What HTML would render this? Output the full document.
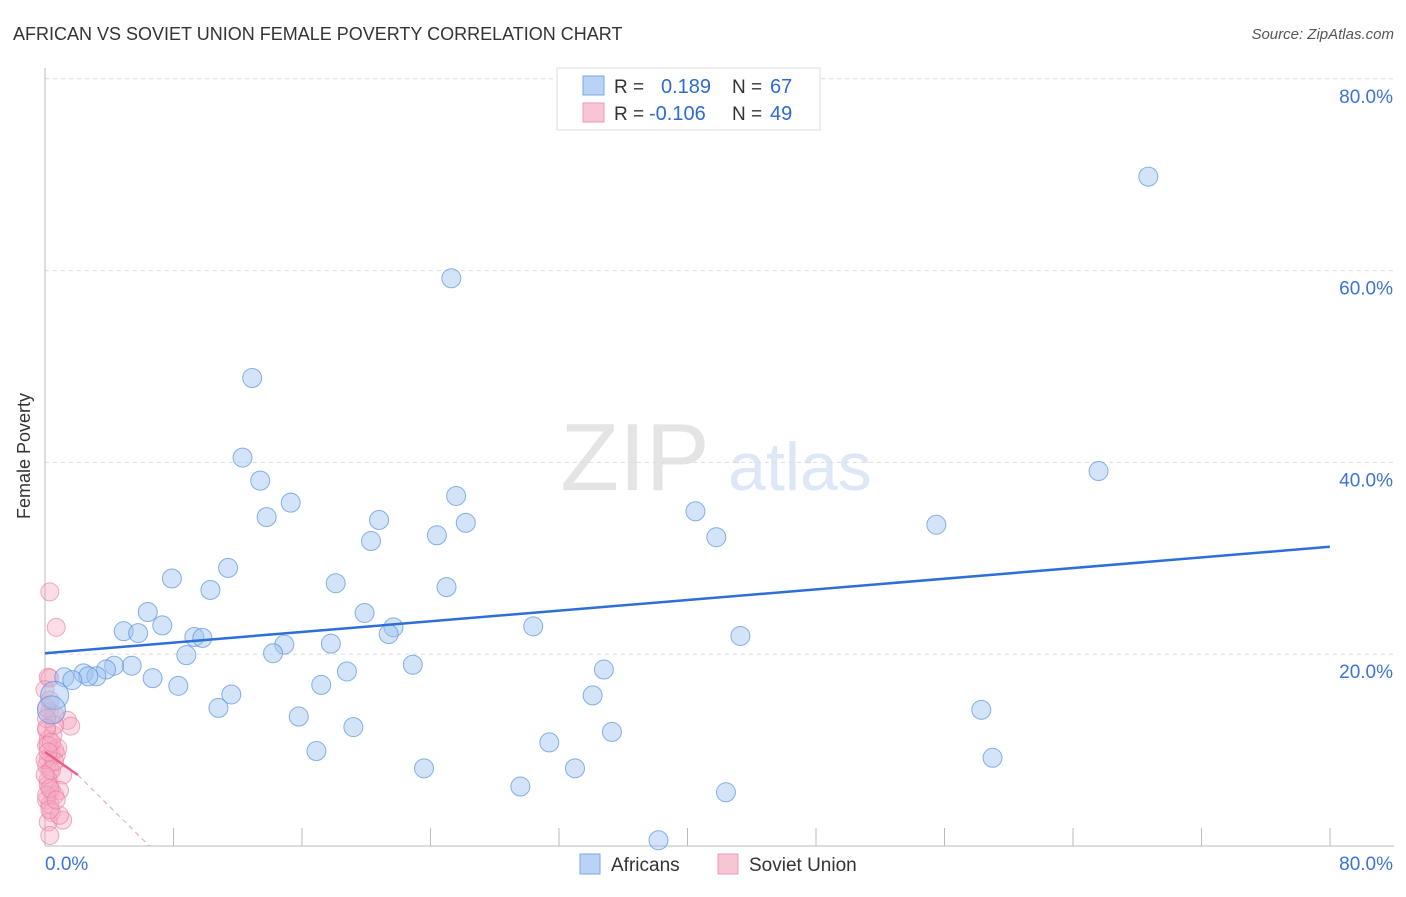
<!DOCTYPE html>
<html><head><meta charset="utf-8"><style>
body{margin:0;background:#fff;font-family:"Liberation Sans",sans-serif;}
svg text{font-family:"Liberation Sans",sans-serif;}
</style></head><body>
<svg id="chart" width="1406" height="892" xmlns="http://www.w3.org/2000/svg">
<text x="13" y="40" font-size="18" fill="#333">AFRICAN VS SOVIET UNION FEMALE POVERTY CORRELATION CHART</text>
<text x="1394" y="39" font-size="15" fill="#555" text-anchor="end" font-style="italic">Source: ZipAtlas.com</text>
<text x="30" y="456" font-size="18" fill="#333" text-anchor="middle" transform="rotate(-90 30 456)">Female Poverty</text>
<g><text x="635" y="490" font-size="96" fill="#e4e4e4" font-family="Liberation Serif" text-anchor="middle">ZIP</text><text x="800" y="490" font-size="68" fill="#dde7f5" text-anchor="middle">atlas</text></g>
<g id="grid"></g><g id="marks"></g>
<g>
<rect x="557" y="68" width="263" height="62" fill="#fff" stroke="#ddd"/>
<rect x="583" y="76" width="21" height="19" fill="#b9d3f5" stroke="#7aa7e6"/>
<rect x="583" y="103" width="21" height="19" fill="#f8c5d4" stroke="#ec9ab3"/>
<text x="614" y="93" font-size="19" fill="#333">R = </text><text x="661" y="93" font-size="20" fill="#2f6ad0">0.189</text>
<text x="732" y="93" font-size="19" fill="#333">N = </text><text x="770" y="93" font-size="20" fill="#2f6ad0">67</text>
<text x="614" y="120" font-size="19" fill="#333">R = </text><text x="649" y="120" font-size="20" fill="#2f6ad0">-0.106</text>
<text x="732" y="120" font-size="19" fill="#333">N = </text><text x="770" y="120" font-size="20" fill="#2f6ad0">49</text>
</g>
<g>
<rect x="580" y="854" width="20" height="20" fill="#b9d3f5" stroke="#7aa7e6"/><text x="611" y="871" font-size="19" fill="#333">Africans</text>
<rect x="718" y="854" width="20" height="20" fill="#f8c5d4" stroke="#ec9ab3"/><text x="749" y="871" font-size="19" fill="#333">Soviet Union</text>
</g>
</svg>
<script>
const blueX=[68.7,25.3,12.9,12.3,13.4,65.6,15.3,13.8,25.6,20.8,26.2,55.5,20.3,24.4,40.5,41.8,7.9,11.4,18.1,10.3,25.0,6.4,19.9,7.3,4.9,5.8,30.4,21.7,21.4,43.3,9.3,9.8,17.8,14.9,14.2,8.8,22.9,34.8,5.4,4.3,3.8,2.4,3.2,2.7,1.2,1.7,6.7,18.8,8.3,17.2,11.6,34.1,10.8,58.3,15.8,19.2,35.3,31.4,16.9,59.0,23.6,33.0,29.6,42.4,38.2,0.6,0.4];
const blueY=[69.8,59.2,48.8,40.5,38.1,39.1,35.8,34.3,36.5,34.0,33.7,33.5,31.8,32.4,34.9,32.2,27.9,29.0,27.4,26.7,27.0,24.4,24.3,23.0,22.4,22.2,22.9,22.8,22.1,21.9,21.8,21.7,21.1,21.0,20.1,19.9,18.9,18.4,18.8,18.8,18.4,18.0,17.7,17.7,17.6,17.3,17.5,18.2,16.7,16.8,15.8,15.7,14.4,14.2,13.5,12.4,11.9,10.8,9.9,9.2,8.1,8.1,6.2,5.6,0.6,15.7,14.2];
const pinkX=[0.3,0.7,0.2,0.3,0,0.3,1.4,1.6,0.1,0.6,0.2,0.6,0.4,0.2,0.7,0.1,0.3,1.1,0.2,0.4,0.6,0.1,0.3,0.4,1.1,0.2,0.3,0.9,0.1,0.5,0.8,0.1,0.3,0.6,0.1,0.2,0.4,0,0.2,0.9,0.1,0.3,0.6,0.1,0.4,0.2,0,0.3,0.7];
const pinkY=[26.5,22.8,17.6,17.5,16.3,14.0,13.1,12.5,12.1,13.7,11.1,10.0,9.5,9.0,9.5,8.4,7.9,7.4,6.9,5.8,5.3,4.8,4.3,3.5,2.7,2.5,1.1,3.2,10.5,11.6,10.2,14.4,15.2,12.6,13.3,6.4,7.9,9.0,10.5,5.8,5.3,3.8,8.8,12.3,10.8,9.8,7.4,6.0,4.8];
const yTicks=[20,40,60,80];
const blueTrend=[20.1,31.2];
const pinkTrend=[9.8,7.4,2.05,6.5];
const X=v=>45+v*16.06, Y=v=>846-v*9.59;
const NS="http://www.w3.org/2000/svg";
function mk(t,a,p){const e=document.createElementNS(NS,t);for(const k in a)e.setAttribute(k,a[k]);p.appendChild(e);return e;}
const grid=document.getElementById('grid'),marks=document.getElementById('marks');
yTicks.forEach(t=>{
 const l=mk('line',{x1:45,x2:1394,y1:Y(t),y2:Y(t),stroke:'#ddd','stroke-dasharray':'4 4'},grid);
 
 
 const tx=mk('text',{x:1393,y:Y(t)+24,'font-size':19,fill:'#3b74d4','text-anchor':'end'},grid);tx.textContent=t.toFixed(1)+'%';
 
 
});
mk('line',{x1:45,x2:45,y1:68,y2:846,stroke:'#bbb'},grid);
mk('line',{x1:45,x2:1394,y1:846,y2:846,stroke:'#bbb'},grid);
for(let i=1;i<=10;i++){mk('line',{x1:45+i*128.5,x2:45+i*128.5,y1:828,y2:846,stroke:'#bbb'},grid);}
let a=mk('text',{x:45,y:870,'font-size':19,fill:'#3b74d4'},grid);a.textContent='0.0%';


a=mk('text',{x:1393,y:870,'font-size':19,fill:'#3b74d4','text-anchor':'end'},grid);a.textContent='80.0%';


pinkX.forEach((x,i)=>{const c=mk('circle',{cx:X(x),cy:Y(pinkY[i]),r:9,fill:'rgba(246,170,195,0.4)',stroke:'rgba(232,120,155,0.6)'},marks);
 
 });
blueX.forEach((x,i)=>{const r=i>=65?14:9.5;const c=mk('circle',{cx:X(x),cy:Y(blueY[i]),r:r,fill:'rgba(160,196,240,0.45)',stroke:'rgba(90,145,220,0.7)'},marks);
 
 });
let t=mk('line',{x1:X(0),y1:Y(blueTrend[0]),x2:X(80),y2:Y(blueTrend[1]),stroke:'#2d6fd6','stroke-width':2.5},marks);


t=mk('line',{x1:X(0),y1:Y(pinkTrend[0]),x2:X(pinkTrend[2]),y2:Y(pinkTrend[1]),stroke:'#e8608a','stroke-width':2.5},marks);


t=mk('line',{x1:X(pinkTrend[2]),y1:Y(pinkTrend[1]),x2:X(pinkTrend[3]),y2:Y(0),stroke:'#e8a0b5','stroke-width':1,'stroke-dasharray':'5 4'},marks);


</script>
</body></html>
